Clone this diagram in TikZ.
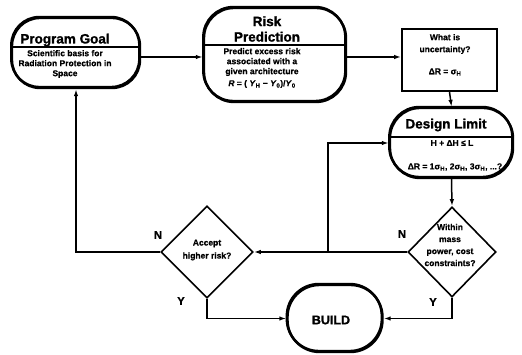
\documentclass[tikz,border=0pt]{standalone}
\usepackage{fontspec}
\setmainfont{Liberation Sans}
\newfontfamily\heavyfont[FakeBold=1.2]{Liberation Sans Bold}
\newfontfamily\midfont[FakeBold=0.6]{Liberation Sans Bold}
\usetikzlibrary{arrows.meta,shapes.geometric,shadows}
\begin{document}
\begin{tikzpicture}[x=1pt,y=-1pt,
  bigbox/.style={draw, line width=2.4pt, rounded corners=#1, inner sep=0pt,
    copy shadow={shadow xshift=-0.7pt, shadow yshift=1pt, draw=black, fill=none}},
  qbox/.style={draw, line width=1.8pt, inner sep=0pt},
  decision/.style={draw, diamond, line width=1.6pt, inner sep=0pt},
  divider/.style={line width=1.4pt},
  conn/.style={line width=1.5pt},
  arr/.style={conn, -{Latex[length=7pt,width=4.5pt]}},
  title/.style={font=\fontsize{13.5}{14}\selectfont\heavyfont, inner sep=0pt},
  body/.style={font=\fontsize{8.5}{10}\selectfont\midfont, align=center, inner sep=0pt},
  lbl/.style={font=\fontsize{11}{11}\selectfont\heavyfont, inner sep=0pt}
]
\useasboundingbox (0,0) rectangle (522,355);

% boxes
\node[bigbox=28pt, minimum width=128pt, minimum height=70pt] (pg) at (76,53) {};
\node[bigbox=30pt, minimum width=142pt, minimum height=94pt] (risk) at (275,55) {};
\node[qbox, minimum width=95pt, minimum height=62pt] (unc) at (449.5,60) {};
\node[bigbox=30pt, minimum width=123pt, minimum height=70pt] (dl) at (451.5,143) {};
\node[decision, minimum width=88pt, minimum height=90pt] (wit) at (452,252) {};
\node[decision, minimum width=92pt, minimum height=92pt] (acc) at (207,252) {};
\node[bigbox=32pt, minimum width=95pt, minimum height=67pt] (build) at (335,318.5) {};

% dividers
\draw[divider] (pg.west |- 0,47) -- (pg.east |- 0,47);
\draw[divider] (risk.west |- 0,45) -- (risk.east |- 0,45);
\draw[divider] (dl.west |- 0,137) -- (dl.east |- 0,137);

% texts
\node[title] (pgT) at (65,40) {Program Goal};
\node[body] (pgB) at (65,64) {Scientific basis for\\Radiation Protection in\\Space};
\node[title, align=center, font=\fontsize{13.5}{15.5}\selectfont\heavyfont] (riskT) at (267,29) {Risk\\Prediction};
\node[body] (riskB) at (262,62) {Predict excess risk\\associated with a\\given architecture};
\node[body] (riskF) at (262,84) {\textit{R} = ( \textit{Y}\textsubscript{H} − \textit{Y}\textsubscript{0})/\textit{Y}\textsubscript{0}};
\node[body, font=\fontsize{8.5}{12}\selectfont\midfont] (uncT) at (445,44) {What is\\uncertainty?};
\node[body] (uncF) at (445,72) {ΔR = σ\textsubscript{H}};
\node[title] (dlT) at (446,125) {Design Limit};
\node[body] (dlA) at (452,143) {H + ΔH ≤ L};
\node[body] (dlB) at (455,167) {ΔR = 1σ\textsubscript{H}, 2σ\textsubscript{H}, 3σ\textsubscript{H}, ...?};
\node[body, font=\fontsize{8.5}{12}\selectfont\midfont] (witT) at (450,245) {Within\\mass\\power, cost\\constraints?};
\node[body, font=\fontsize{8.5}{13}\selectfont\midfont] (accT) at (207,250) {Accept\\higher risk?};
\node[title, font=\fontsize{12.5}{13}\selectfont\heavyfont] (buildT) at (331,320) {BUILD};

% labels
\node[lbl] (n1) at (158,235) {N};
\node[lbl] (y1) at (181,301) {Y};
\node[lbl] (n2) at (402,234) {N};
\node[lbl] (y2) at (433,302) {Y};

% connectors
\coordinate (j) at (328,252);
\draw[arr] (pg.east |- 0,57) -- (risk.west |- 0,57);
\draw[arr] (risk.east |- 0,57) -- (unc.west |- 0,57);
\draw[arr] (unc.south) -- (dl.north);
\draw[arr] (dl.south) -- (wit.north);
\draw[arr] (wit.west) -- (acc.east);
\draw[arr] (j) |- (dl.west);
\draw[arr] (wit.south) |- (build.east);
\draw[arr] (acc.south) |- (build.west);
\draw[arr] (acc.west) -| (pg.south);
\end{tikzpicture}
\end{document}
